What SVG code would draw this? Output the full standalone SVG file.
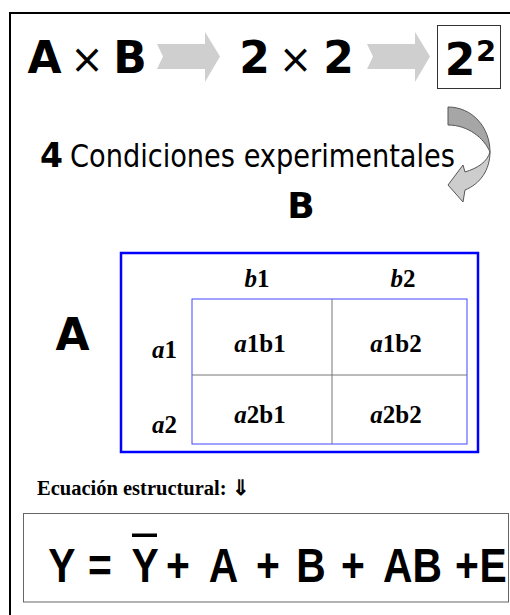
<svg xmlns="http://www.w3.org/2000/svg" width="510" height="615" viewBox="0 0 510 615">
<style>
.big{font-family:"DejaVu Sans",Verdana,sans-serif;font-weight:bold;fill:#000;text-anchor:middle}
.times{font-family:"Liberation Serif","Times New Roman",serif;font-weight:bold;fill:#000}
.arial{font-family:"Liberation Sans",Arial,sans-serif;font-weight:bold;fill:#000;text-anchor:middle;font-size:48px}
.garrow{fill:#cfcfcf;stroke:none}
</style>
<rect x="10" y="13" width="520" height="620" fill="#fff" stroke="#000" stroke-width="2"/>

<g id="title-ab">
<text class="big" x="44.5" y="73" font-size="44">A</text>
<text class="big" x="87" y="73" font-size="40" style="font-weight:normal">×</text>
<text class="big" x="130" y="73" font-size="44">B</text>
</g>
<g id="title-22">
<text class="big" x="254.5" y="73" font-size="44">2</text>
<text class="big" x="295.5" y="73" font-size="40" style="font-weight:normal">×</text>
<text class="big" x="338.5" y="73" font-size="44">2</text>
</g>
<g id="title-2sq">
<rect x="437.5" y="25.5" width="63" height="63" fill="#fff" stroke="#333" stroke-width="1"/>
<text class="big" x="460" y="75" font-size="44">2</text>
<text class="big" x="486" y="61" font-size="29">2</text>
</g>

<g id="connectors">
<polygon class="garrow" points="157,44 205,44 205,32 220,56.5 205,82 205,69 157,69 163,56.5"/>
<polygon class="garrow" points="367,44 415,44 415,32 430,56.5 415,82 415,69 367,69 373,56.5"/>
<path d="M448,107 C472,107 490,127 490,152 C484,138 468,125 448,125 Z" fill="#a6a6a6" stroke="#555" stroke-width="1"/>
<path d="M490,152 C490,170 480,184 465,190 L463,202 L448,185 L463,165 L465,172 C478,168 487,162 490,152 Z" fill="#cdcdcd" stroke="#555" stroke-width="1"/>
</g>

<g id="conditions">
<text x="40" y="167" font-family="DejaVu Sans,Verdana,sans-serif" font-weight="bold" font-size="33">4</text>
<text x="70" y="167" font-family="DejaVu Sans Condensed,DejaVu Sans,Tahoma,sans-serif" font-size="32" textLength="385" lengthAdjust="spacingAndGlyphs">Condiciones experimentales</text>
</g>

<g id="factor-b">
<text class="big" x="301" y="218" font-size="36">B</text>
</g>
<g id="factor-a">
<text class="big" x="72.5" y="350" font-size="44">A</text>
</g>

<g id="table">
<rect x="121" y="253" width="357" height="199" fill="#fff" stroke="#0000ff" stroke-width="2.5"/>
<rect x="192" y="299" width="275" height="145" fill="#fff" stroke="#4444ff" stroke-width="1"/>
<line x1="332" y1="299" x2="332" y2="444" stroke="#777" stroke-width="1"/>
<line x1="192" y1="375" x2="467" y2="375" stroke="#777" stroke-width="1"/>
<g class="times" font-size="25" text-anchor="middle">
<text x="257" y="287"><tspan font-style="italic">b</tspan>1</text>
<text x="403" y="287"><tspan font-style="italic">b</tspan>2</text>
<text x="164.5" y="358"><tspan font-style="italic">a</tspan>1</text>
<text x="164.5" y="433"><tspan font-style="italic">a</tspan>2</text>
<text x="260" y="352"><tspan font-style="italic">a</tspan>1b1</text>
<text x="396" y="352"><tspan font-style="italic">a</tspan>1b2</text>
<text x="260" y="423"><tspan font-style="italic">a</tspan>2b1</text>
<text x="396" y="423"><tspan font-style="italic">a</tspan>2b2</text>
</g>
</g>

<g id="equation-label">
<text class="times" x="37" y="495" font-size="20.5">Ecuación estructural: ⇓</text>
</g>

<g id="equation">
<rect x="23.5" y="513.5" width="485" height="88.5" fill="#fff" stroke="#666" stroke-width="1"/>
<rect x="132" y="533.5" width="25" height="3.5" fill="#000"/>
<g transform="scale(0.85 1)">
<text class="arial" x="72.9" y="582">Y</text>
<text class="arial" x="117.6" y="582">=</text>
<text class="arial" x="170.6" y="582">Y</text>
<text class="arial" x="209.4" y="582">+</text>
<text class="arial" x="262.9" y="582">A</text>
<text class="arial" x="315.3" y="582">+</text>
<text class="arial" x="365.9" y="582">B</text>
<text class="arial" x="415.3" y="582">+</text>
<text class="arial" x="485.3" y="582">AB</text>
<text class="arial" x="549.4" y="582">+</text>
<text class="arial" x="580" y="582">E</text>
</g>
</g>
</svg>
